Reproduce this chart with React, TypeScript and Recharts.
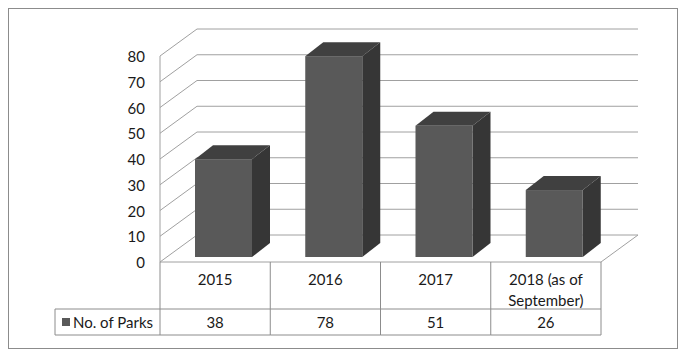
import { Bar, BarChart, CartesianGrid, XAxis, YAxis } from 'recharts'

const categories = ['2015', '2016', '2017', '2018 (as of September)']
const parks = [38, 78, 51, 26]
const yTicks = [0, 10, 20, 30, 40, 50, 60, 70, 80]
const seriesName = 'No. of Parks'

const data = categories.map((c, i) => ({ year: c, parks: parks[i] }))

// 3D look: depth of the walls and of the bars
const DX = 37
const DY = 27
const BAR_FX = 8
const BAR_FY = 5
const BAR_DX = 18
const BAR_DY = 14

const FONT = 'Lato, "Noto Sans", sans-serif'
const GRID = '#a0a0a0'
const TABLE = '#8c8c8c'
const TEXT = '#1a1a1a'

function wrap(label: string) {
  if (label.length <= 12) return [label]
  const words = label.split(' ')
  const lines: string[] = []
  let cur = ''
  for (const w of words) {
    const next = cur ? cur + ' ' + w : w
    if (next.length > 11 && cur) {
      lines.push(cur)
      cur = w
    } else cur = next
  }
  if (cur) lines.push(cur)
  return lines
}

function Bar3D(props: any) {
  const { x, y, width, height } = props
  if (!height) return null
  const fx = x + BAR_FX
  const fy = y - BAR_FY
  return (
    <g>
      <polygon
        points={`${fx},${fy} ${fx + width},${fy} ${fx + width + BAR_DX},${fy - BAR_DY} ${fx + BAR_DX},${fy - BAR_DY}`}
        fill="#404040"
      />
      <polygon
        points={`${fx + width},${fy} ${fx + width + BAR_DX},${fy - BAR_DY} ${fx + width + BAR_DX},${fy + height - BAR_DY} ${fx + width},${fy + height}`}
        fill="#363636"
      />
      <rect x={fx} y={fy} width={width} height={height} fill="#595959" />
    </g>
  )
}

function GridLine(props: any) {
  const { x1, x2, y1 } = props
  return (
    <g>
      <line x1={x1} y1={y1} x2={x1 + DX} y2={y1 - DY} stroke={GRID} />
      <line x1={x1 + DX} y1={y1 - DY} x2={x2 + DX} y2={y1 - DY} stroke={GRID} />
    </g>
  )
}

function YTick(props: any) {
  const { x, y, payload } = props
  return (
    <text x={x - 15} y={y} textAnchor="end" dominantBaseline="central" fontSize={15} fontFamily={FONT} fill={TEXT}>
      {payload.value}
    </text>
  )
}

function TableTick(props: any) {
  const { x, y, payload, index } = props
  const half = payload.offset || 55
  const i = categories.indexOf(payload.value)
  const left = x - half
  const right = x + half
  const lines = wrap(payload.value)
  const last = i === categories.length - 1
  return (
    <g>
      <line x1={left} y1={y} x2={left} y2={y + 73} stroke={TABLE} />
      {last && <line x1={right} y1={y} x2={right} y2={y + 73} stroke={TABLE} />}
      {last && <line x1={right} y1={y} x2={right + DX} y2={y - DY} stroke={GRID} />}
      <line x1={left} y1={y + 47} x2={right} y2={y + 47} stroke={TABLE} />
      <line x1={left} y1={y + 73} x2={right} y2={y + 73} stroke={TABLE} />
      {lines.map((l, k) => (
        <text key={k} x={x} y={y + 17 + k * 21} textAnchor="middle" dominantBaseline="central" fontSize={15} fontFamily={FONT} fill={TEXT}>
          {l}
        </text>
      ))}
      <text x={x} y={y + 60} textAnchor="middle" dominantBaseline="central" fontSize={15} fontFamily={FONT} fill={TEXT}>
        {parks[i]}
      </text>
      {index === 0 && (
        <g>
          <line x1={46} y1={y + 47} x2={left} y2={y + 47} stroke={TABLE} />
          <line x1={46} y1={y + 73} x2={left} y2={y + 73} stroke={TABLE} />
          <line x1={46} y1={y + 47} x2={46} y2={y + 73} stroke={TABLE} />
          <rect x={53} y={y + 56} width={8} height={8} fill="#595959" />
          <text x={64} y={y + 60} dominantBaseline="central" fontSize={15} fontFamily={FONT} fill={TEXT}>
            {seriesName}
          </text>
        </g>
      )}
    </g>
  )
}

export default function App() {
  return (
    <div style={{ width: 670, height: 341, boxSizing: 'border-box', border: '1px solid #8c8c8c', background: '#fff' }}>
      <BarChart
        width={668}
        height={339}
        data={data}
        margin={{ top: 47, right: 76, left: 0, bottom: 0 }}
        barSize={57}
      >
        <CartesianGrid vertical={false} horizontal={(p: any) => <GridLine key={p.key ?? p.index} {...p} />} />
        <YAxis
          width={151}
          domain={[0, 80]}
          ticks={yTicks}
          tickSize={0}
          tickMargin={0}
          tickLine={false}
          axisLine={{ stroke: GRID }}
          tick={<YTick />}
          interval={0}
        />
        <XAxis
          dataKey="year"
          height={86}
          tickSize={0}
          tickMargin={0}
          tickLine={false}
          axisLine={{ stroke: GRID }}
          tick={<TableTick />}
          interval={0}
        />
        <Bar dataKey="parks" shape={<Bar3D />} isAnimationActive={false} />
      </BarChart>
    </div>
  )
}
